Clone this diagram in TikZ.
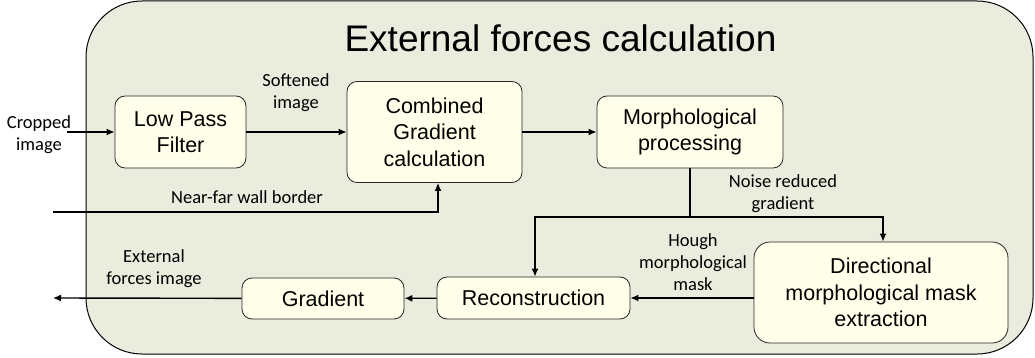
\documentclass[tikz,border=0pt]{standalone}
\usepackage{fontspec}
\setmainfont{Liberation Sans}
\newfontfamily\lab{Carlito}
\usetikzlibrary{arrows.meta}
\definecolor{framefill}{RGB}{234,237,222}
\definecolor{boxfill}{RGB}{255,255,234}
\begin{document}
\begin{tikzpicture}[x=1pt,y=-1pt,
  blk/.style={draw=black!85, fill=boxfill, rounded corners=10pt, align=center,
    font=\fontsize{21.5}{26.5}\selectfont, inner sep=0pt, line width=0.8pt},
  lbl/.style={align=center, font=\lab\fontsize{18.5}{22}\selectfont, inner sep=0pt},
  conn/.style={line width=1.4pt, black},
  arr/.style={conn, -{Latex[length=8pt,width=7pt]}}]
\useasboundingbox (0,0) rectangle (1035,358);
\draw[fill=framefill, line width=1pt, rounded corners=56pt] (86,1) rectangle (1033,354);
\node[anchor=base, font=\fontsize{37}{40}\selectfont, inner sep=0pt] (title) at (560.5,52) {External forces calculation};

\node[blk, minimum width=131pt, minimum height=72pt] (lpf) at (180.5,132) {Low Pass\\Filter};
\node[blk, minimum width=175pt, minimum height=101pt] (cg) at (434.5,132) {Combined\\Gradient\\calculation};
\node[blk, minimum width=186pt, minimum height=72pt] (mp) at (690,132) {Morphological\\processing};
\node[blk, minimum width=193pt, minimum height=42pt] (rec) at (533.5,298) {Reconstruction};
\node[blk, minimum width=162pt, minimum height=41pt] (grad) at (323,298.5) {Gradient};
\node[blk, rounded corners=16pt, minimum width=254pt, minimum height=101pt] (dir) at (881,292.5) {Directional\\morphological mask\\extraction};

\node[lbl] (lcrop) at (39,135) {Cropped\\image};
\node[lbl] (lsoft) at (296,93) {Softened\\image};
\node[lbl] (lnear) at (247,197) {Near-far wall border};
\node[lbl] (lnoise) at (783,194) {Noise reduced\\gradient};
\node[lbl] (lhough) at (693,262) {Hough\\morphological\\mask};
\node[lbl] (lext) at (154,269) {External\\forces image};

\coordinate (cin) at (67,132);
\coordinate (nfin) at (53,212);
\coordinate (br) at (690,217);
\coordinate (out) at (53,298);

\draw[arr] (cin) -- (lpf.west);
\draw[arr] (lpf) -- (cg);
\draw[arr] (cg) -- (mp);
\draw[arr] (nfin) -| ([xshift=3.5pt]cg.south);
\draw[conn] (mp.south) -- (br);
\draw[arr] (br) -| ([xshift=1.5pt]rec.north);
\draw[arr] (br) -| ([xshift=2pt]dir.north);
\draw[arr] (dir.west |- rec.east) -- (rec.east);
\draw[arr] (rec) -- (grad);
\draw[arr] (grad) -- (out);
\end{tikzpicture}
\end{document}
